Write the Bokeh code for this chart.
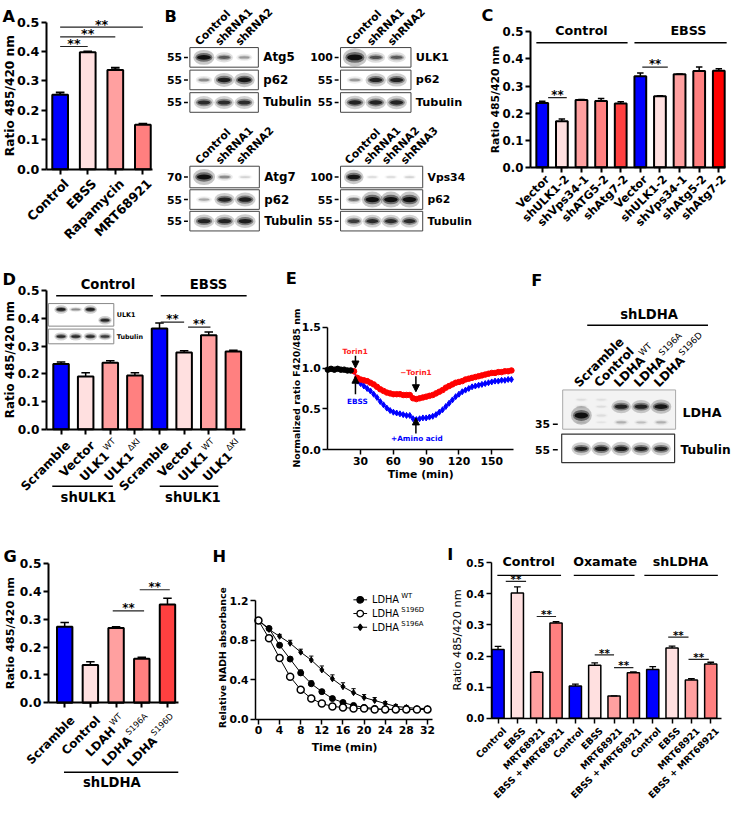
import math
from bokeh.plotting import figure
from bokeh.layouts import row, column
from bokeh.models import (Range1d, Label, Arrow, NormalHead, FixedTicker, LinearAxis,
                          NumeralTickFormatter, CustomJSTickFormatter, BasicTickFormatter)
from bokeh.embed import file_html
from bokeh.resources import INLINE

FONT = "DejaVu Sans"
ANG = math.pi / 4
C45 = math.sqrt(0.5)
SF = 0.98

BLUE = "#0000FF"; LPINK = "#FFE0E0"; PINK = "#FFA0A0"; SALMON = "#FF8080"
RED1 = "#FF4040"; RED2 = "#FF0000"

# ====================== DATA ======================
# A
A_labels = ["Control", "EBSS", "Rapamycin", "MRT68921"]
A_values = [0.253, 0.397, 0.337, 0.151]
A_errors = [0.008, 0.003, 0.008, 0.003]
# B (band intensities, 0-1)
B1_lanes = ["Control", "shRNA1", "shRNA2"]
B1_targets = ["Atg5", "p62", "Tubulin"]
B1_mw = ["55", "55", "55"]
B1_bands = [[1.0, 0.55, 0.3], [0.35, 0.9, 0.95], [0.8, 0.8, 0.8]]
B2_lanes = ["Control", "shRNA1", "shRNA2"]
B2_targets = ["ULK1", "p62", "Tubulin"]
B2_mw = ["100", "55", "55"]
B2_bands = [[1.3, 0.6, 0.55], [0.3, 0.85, 0.85], [0.85, 0.85, 0.85]]
B3_lanes = ["Control", "shRNA1", "shRNA2"]
B3_targets = ["Atg7", "p62", "Tubulin"]
B3_mw = ["70", "55", "55"]
B3_bands = [[1.1, 0.35, 0.12], [0.25, 0.85, 0.9], [0.85, 0.85, 0.9]]
B4_lanes = ["Control", "shRNA1", "shRNA2", "shRNA3"]
B4_targets = ["Vps34", "p62", "Tubulin"]
B4_mw = ["100", "55", "55"]
B4_bands = [[0.95, 0.1, 0.1, 0.12], [0.45, 1.1, 1.1, 1.1], [0.7, 0.8, 0.8, 0.8]]
# C
C_labels = ["Vector", "shULK1-2", "shVps34-1", "shATG5-2", "shAtg7-2",
            "Vector", "shULK1-2", "shVps34-1", "shAtg5-2", "shAtg7-2"]
C_groups = ["Control", "EBSS"]
C_values = [0.237, 0.170, 0.248, 0.245, 0.235, 0.336, 0.262, 0.343, 0.355, 0.356]
C_errors = [0.007, 0.008, 0.002, 0.009, 0.007, 0.012, 0.002, 0.001, 0.015, 0.008]
# D
D_labels = ["Scramble", "Vector", "ULK1", "ULK1", "Scramble", "Vector", "ULK1", "ULK1"]
D_sups = ["", "", "WT", "ΔKI", "", "", "WT", "ΔKI"]
D_groups = ["Control", "EBSS"]
D_values = [0.236, 0.190, 0.240, 0.194, 0.364, 0.277, 0.339, 0.281]
D_errors = [0.007, 0.014, 0.007, 0.010, 0.020, 0.006, 0.012, 0.004]
D_inset_ulk1 = [0.9, 0.35, 0.9, 0.85]
D_inset_tub = [0.8, 0.8, 0.8, 0.7]
# E
E_t_base = [0, 3, 6, 9, 12, 15, 18, 21]
E_base = [0.98, 0.99, 0.98, 0.99, 0.98, 0.98, 0.97, 0.97]
E_t = list(range(24, 169, 3))
E_red = [0.96, 0.88, 0.86, 0.85, 0.84, 0.82, 0.80, 0.77, 0.74, 0.72,
         0.70, 0.69, 0.68, 0.68, 0.68, 0.67, 0.67, 0.67, 0.63, 0.62,
         0.63, 0.64, 0.65, 0.66, 0.67, 0.69, 0.71, 0.73, 0.76, 0.78,
         0.80, 0.82, 0.83, 0.84, 0.86, 0.87, 0.88, 0.89, 0.90, 0.91,
         0.92, 0.93, 0.94, 0.94, 0.95, 0.95, 0.96, 0.96, 0.97]
E_blue = [0.96, 0.84, 0.81, 0.78, 0.75, 0.72, 0.68, 0.64, 0.59, 0.55,
          0.51, 0.48, 0.46, 0.45, 0.44, 0.43, 0.42, 0.42, 0.38, 0.37,
          0.38, 0.39, 0.39, 0.40, 0.41, 0.43, 0.46, 0.49, 0.53, 0.57,
          0.61, 0.65, 0.68, 0.71, 0.73, 0.75, 0.77, 0.78, 0.79, 0.80,
          0.81, 0.82, 0.83, 0.84, 0.84, 0.85, 0.85, 0.86, 0.86]
# F
F_lanes = ["Scramble", "Control", "LDHA", "LDHA", "LDHA"]
F_sups = ["", "", "WT", "S196A", "S196D"]
F_endo = [1.0, 0.06, 0.0, 0.0, 0.0]
F_exo = [0.08, 0.06, 0.85, 0.85, 0.95]
F_faint = [0.05, 0.04, 0.2, 0.15, 0.2]
F_tub = [0.85, 0.9, 0.9, 0.85, 0.85]
# G
G_labels = ["Scramble", "Control", "LDAH", "LDHA", "LDHA"]
G_sups = ["", "", "WT", "S196A", "S196D"]
G_values = [0.273, 0.135, 0.268, 0.158, 0.353]
G_errors = [0.015, 0.012, 0.005, 0.005, 0.022]
# H
H_time = list(range(0, 33, 2))
H_wt = [1.00, 0.92, 0.75, 0.61, 0.47, 0.36, 0.28, 0.21, 0.17, 0.14, 0.12, 0.11, 0.10, 0.10, 0.10, 0.10, 0.10]
H_wt_err = [0, 0.01, 0.02, 0.02, 0.03, 0.03, 0.02, 0.02, 0.01, 0.01, 0.01, 0.01, 0.01, 0.01, 0.01, 0.01, 0.01]
H_s196d = [1.00, 0.82, 0.62, 0.43, 0.30, 0.21, 0.16, 0.13, 0.12, 0.11, 0.11, 0.10, 0.10, 0.10, 0.10, 0.10, 0.10]
H_s196a = [1.00, 0.91, 0.84, 0.77, 0.68, 0.60, 0.50, 0.41, 0.33, 0.27, 0.22, 0.19, 0.16, 0.13, 0.12, 0.11, 0.11]
H_s196a_err = [0, 0.02, 0.02, 0.03, 0.03, 0.04, 0.04, 0.04, 0.04, 0.04, 0.03, 0.03, 0.02, 0.02, 0.02, 0.01, 0.01]
# I
I_labels = ["Control", "EBSS", "MRT68921", "EBSS + MRT68921"] * 3
I_groups = ["Control", "Oxamate", "shLDHA"]
I_values = [0.221, 0.402, 0.148, 0.306, 0.104, 0.170, 0.072, 0.146, 0.157, 0.226, 0.123, 0.174]
I_errors = [0.010, 0.020, 0.002, 0.004, 0.006, 0.008, 0.0, 0.003, 0.009, 0.006, 0.004, 0.006]

# ====================== HELPERS ======================
BOLD_W = {'L': .637, 'D': .830, 'H': .837, 'A': .774, 'U': .812, 'K': .775, '1': .696}
REG_W = {'W': .989, 'T': .611, 'S': .635, '1': .636, '9': .636, '6': .636, 'A': .684,
         'D': .770, 'Δ': .684, 'K': .656, 'I': .295}


def tw(s, bold):
    d = BOLD_W if bold else REG_W
    return sum(d.get(ch, 0.65) for ch in s)


class Panel:
    """A figure whose frame fills it; 'plot' maps reference pixels to data ranges."""

    def __init__(self, box, size, plot=None, xr=None, yr=None):
        ox, oy, w, h = box
        W, H = size
        if plot is None:
            plot = (ox, oy, ox + w, oy + h)
            xr = (ox, ox + w)
            yr = (oy + h, oy)
        self.fl, self.ft, self.fr, self.fb = plot
        self.xr, self.yr = xr, yr
        p = figure(width=W, height=H,
                   x_range=Range1d(self.x(ox), self.x(ox + w)),
                   y_range=Range1d(self.y(oy + h), self.y(oy)),
                   output_backend="svg", toolbar_location=None, title=None,
                   x_axis_location=None, y_axis_location=None,
                   min_border=0, min_border_left=0, min_border_right=0,
                   min_border_top=0, min_border_bottom=0)
        p.xgrid.visible = False
        p.ygrid.visible = False
        p.outline_line_color = None
        self.p = p

    def x(self, px):
        return self.xr[0] + (px - self.fl) / (self.fr - self.fl) * (self.xr[1] - self.xr[0])

    def y(self, py):
        return self.yr[0] + (self.fb - py) / (self.fb - self.ft) * (self.yr[1] - self.yr[0])

    def gx(self, v):
        return self.fl + (v - self.xr[0]) / (self.xr[1] - self.xr[0]) * (self.fr - self.fl)

    def gy(self, v):
        return self.fb - (v - self.yr[0]) / (self.yr[1] - self.yr[0]) * (self.fb - self.ft)

    def dx(self, l):
        return l * abs(self.xr[1] - self.xr[0]) / (self.fr - self.fl)

    def dy(self, l):
        return l * abs(self.yr[1] - self.yr[0]) / (self.fb - self.ft)

    def text(self, px, py, s, size, bold=True, color="black", align="center",
             baseline="middle", angle=0.0):
        self.p.add_layout(Label(x=self.x(px), y=self.y(py), text=s, text_font=FONT,
                                text_font_size=f"{size * SF:.1f}px",
                                text_font_style="bold" if bold else "normal",
                                text_color=color, text_align=align,
                                text_baseline=baseline, angle=angle))

    def line(self, px0, py0, px1, py1, width=1.5, color="black"):
        self.p.segment(x0=[self.x(px0)], y0=[self.y(py0)], x1=[self.x(px1)], y1=[self.y(py1)],
                       line_width=width, line_color=color)


def add_axes(P, lw, yticks, yfmt, ysize, xticks, xsize=None, ybounds=None, tick=5):
    yax = LinearAxis(fixed_location=P.xr[0], bounds=ybounds or tuple(P.yr),
                     ticker=FixedTicker(ticks=yticks), formatter=NumeralTickFormatter(format=yfmt))
    if xsize is None:
        xfmt = CustomJSTickFormatter(code="return ''")
    else:
        xfmt = BasicTickFormatter()
    xax = LinearAxis(fixed_location=P.yr[0], bounds=tuple(P.xr),
                     ticker=FixedTicker(ticks=xticks), formatter=xfmt)
    for ax, fs in ((yax, ysize), (xax, xsize or 8)):
        ax.axis_line_width = lw
        ax.axis_line_color = "black"
        ax.major_tick_line_width = lw
        ax.major_tick_line_color = "black"
        ax.major_tick_out = tick
        ax.major_tick_in = 0
        ax.minor_tick_line_color = None
        ax.major_label_text_font = FONT
        ax.major_label_text_font_style = "bold"
        ax.major_label_text_color = "black"
        ax.major_label_standoff = 2
        ax.major_label_text_font_size = f"{fs * SF:.1f}px"
    P.p.add_layout(yax, "left")
    P.p.add_layout(xax, "below")


def bars(P, values, errors, colors, width, lw=2.0, elw=1.5, cap=0.55):
    xs = list(range(len(values)))
    P.p.vbar(x=xs, top=values, bottom=0, width=width, fill_color=colors,
             line_color="black", line_width=lw)
    tops = [v + e for v, e in zip(values, errors)]
    P.p.segment(x0=xs, y0=values, x1=xs, y1=tops, line_color="black", line_width=elw)
    hw = width * cap / 2
    P.p.segment(x0=[x - hw for x in xs], y0=tops, x1=[x + hw for x in xs], y1=tops,
                line_color="black", line_width=elw)


def stars(P, px, py_line, size):
    P.text(px, py_line - 0.22 * size, "**", size, baseline="middle")


def sig(P, spans, size, lw=1.2):
    for a, b, yv in spans:
        P.p.segment(x0=[a], y0=[yv], x1=[b], y1=[yv], line_color="#222222", line_width=lw)
        stars(P, (P.gx(a) + P.gx(b)) / 2, P.gy(yv), size)


def xlabels(P, names, sups, off, size, supsize):
    for i, m in enumerate(names):
        s = sups[i] if sups else ""
        px = P.gx(i) + off[0]
        py = P.fb + off[1]
        if s:
            r = 0.45 * size
            P.text(px - r * C45, py - r * C45, s, supsize, bold=False, align="right", angle=ANG)
            w = tw(s, False) * supsize + 1.5
            P.text(px - w * C45, py + w * C45, m, size, align="right", angle=ANG)
        else:
            P.text(px, py, m, size, align="right", angle=ANG)


def draw_bands(p, xs, ys, inten, base_w, hscale=1.0):
    w = [base_w + 6 * min(i, 1.3) for i in inten]
    h = [(2.5 + 6.5 * i) * hscale for i in inten]
    a = [min(1.0, i) for i in inten]
    for wm, hm, am in ((1.25, 1.7, 0.22), (1.0, 1.0, 0.45), (0.8, 0.55, 0.85)):
        p.ellipse(x=xs, y=ys, width=[v * wm for v in w], height=[v * hm for v in h],
                  fill_color="black", fill_alpha=[v * am for v in a], line_color=None)


def draw_blot(P, x0, x1, rows, lanes, targets, mws, bands, tsize=12):
    n = len(lanes)
    pad = 4
    lw = (x1 - x0 - 2 * pad) / n
    lx = [x0 + pad + (i + 0.5) * lw for i in range(n)]
    for (top, bot), tgt, mw, inten in zip(rows, targets, mws, bands):
        P.p.quad(left=x0, right=x1, top=top, bottom=bot, fill_color="white",
                 line_color="#444444", line_width=1)
        yc = (top + bot) / 2
        draw_bands(P.p, lx, [yc] * n, inten, lw * 0.55)
        P.text(x0 - 8, yc, mw, 11, align="right")
        P.p.segment(x0=x0 - 6, y0=yc, x1=x0 - 2, y1=yc, line_color="black", line_width=1.5)
        P.text(x1 + 5, yc, tgt, tsize, align="left")
    top0 = rows[0][0]
    for x, name in zip(lx, lanes):
        P.text(x - 7, top0 - 4, name, 11, align="left", baseline="alphabetic", angle=ANG)


def letter(P, px, py, s):
    P.text(px, py, s, 16.5, align="left", baseline="alphabetic")


Y5 = [0, 0.1, 0.2, 0.3, 0.4, 0.5]

# ====================== PANEL A ======================
PA = Panel((0, 0, 165, 258), (161, 253), plot=(47, 22, 156, 172), xr=(-0.5, 3.357), yr=(0, 0.5))
add_axes(PA, 2, Y5, "0.0", 13, list(range(4)))
bars(PA, A_values, A_errors, [BLUE, LPINK, PINK, "#FF7F7F"], 0.57, lw=2, elw=2)
for j, yv in ((1, 0.417), (2, 0.45), (3, 0.483)):
    PA.p.segment(x0=[0], y0=[yv], x1=[j], y1=[yv], line_color="#222222", line_width=1.2)
    stars(PA, (PA.gx(0) + PA.gx(j)) / 2, PA.gy(yv), 13)
xlabels(PA, A_labels, None, (6.5, 12.5), 13, 8)
PA.text(10, 97, "Ratio 485/420 nm", 12.5, angle=math.pi / 2)
letter(PA, 2, 16, "A")

# ====================== PANEL B ======================
PB = Panel((165, 0, 323, 258), (316, 253))
ROWS_TOP = [(48, 68), (71, 91), (94, 114)]
ROWS_BOT = [(169, 191), (193, 213), (215, 235)]
draw_blot(PB, 194, 264, ROWS_TOP, B1_lanes, B1_targets, B1_mw, B1_bands, tsize=12)
draw_blot(PB, 348, 420, ROWS_TOP, B2_lanes, B2_targets, B2_mw, B2_bands, tsize=11.5)
draw_blot(PB, 194, 265, ROWS_BOT, B3_lanes, B3_targets, B3_mw, B3_bands, tsize=12)
draw_blot(PB, 348, 432, ROWS_BOT, B4_lanes, B4_targets, B4_mw, B4_bands, tsize=11)
letter(PB, 168, 16, "B")

# ====================== PANEL C ======================
PC = Panel((488, 0, 262, 258), (257, 253), plot=(542, 32, 741, 170), xr=(-0.6, 9.35), yr=(0, 0.5))
add_axes(PC, 2, Y5, "0.0", 12, list(range(10)))
bars(PC, C_values, C_errors, [BLUE, LPINK, PINK, SALMON, RED1, BLUE, LPINK, PINK, SALMON, RED2],
     0.6, lw=2, elw=1.5)
sig(PC, [(0.3, 1.25, 0.257), (5.1, 6.4, 0.37)], 12)
PC.line(548, 43, 641, 43); PC.text(594, 31, C_groups[0], 13)
PC.line(648, 43, 742, 43); PC.text(703, 31, C_groups[1], 13)
xlabels(PC, C_labels, None, (5.5, 10.5), 11.5, 8)
PC.text(506, 101, "Ratio 485/420 nm", 11, angle=math.pi / 2)
letter(PC, 492, 15, "C")

# ====================== PANEL D ======================
PD = Panel((0, 258, 258, 272), (252, 267), plot=(47, 296, 251, 437), xr=(-0.595, 7.5), yr=(0, 0.5))
add_axes(PD, 2, Y5, "0.0", 12.5, list(range(8)))
bars(PD, D_values, D_errors, [BLUE, LPINK, PINK, SALMON] * 2, 0.63, lw=2, elw=1.5)
sig(PD, [(4.05, 5.0, 0.387), (5.16, 6.07, 0.369)], 12)
PD.line(57, 301, 156, 301); PD.text(110, 290, D_groups[0], 13.5)
PD.line(164, 301, 252, 301); PD.text(213, 290, D_groups[1], 13.5)
xlabels(PD, D_labels, D_sups, (7.5, 14.5), 12.5, 8.5)
PD.line(53, 495, 115, 495); PD.text(90, 507, "shULK1", 13.5)
PD.line(163, 495, 223, 495); PD.text(197, 507, "shULK1", 13.5)
PD.text(10, 366, "Ratio 485/420 nm", 12, angle=math.pi / 2)
letter(PD, 2, 284, "D")
# inset blot
for (t, b) in ((309, 332), (335, 350)):
    PD.p.quad(left=PD.x(49), right=PD.x(116), top=PD.y(t), bottom=PD.y(b),
              fill_color="white", line_color="#888888", line_width=1)
ins_x = [PD.x(62 + 15 * i) for i in range(4)]
ins_y = [PD.y(315), PD.y(315), PD.y(315), PD.y(326)]
for wm, hm, am in ((1.25, 1.7, 0.22), (1.0, 1.0, 0.45), (0.8, 0.55, 0.85)):
    PD.p.ellipse(x=ins_x, y=ins_y, width=[PD.dx(11 * wm)] * 4,
                 height=[PD.dy((2 + 3.5 * v) * hm) for v in D_inset_ulk1],
                 fill_color="black", fill_alpha=[v * am for v in D_inset_ulk1], line_color=None)
    PD.p.ellipse(x=ins_x, y=[PD.y(342.5)] * 4, width=[PD.dx(11 * wm)] * 4,
                 height=[PD.dy((2 + 3.5 * v) * hm) for v in D_inset_tub],
                 fill_color="black", fill_alpha=[v * am for v in D_inset_tub], line_color=None)
PD.text(119, 321, "ULK1", 6.5, align="left")
PD.text(119, 343, "Tubulin", 6.5, align="left")

# ====================== PANEL E ======================
PE = Panel((258, 258, 272, 272), (266, 267), plot=(335, 333, 525, 458), xr=(0, 170), yr=(0, 1.5))
add_axes(PE, 1.5, [0, 0.5, 1.0, 1.5], "0.0", 11, [30, 60, 90, 120, 150], xsize=11)
PE.p.line(E_t, E_blue, line_color=BLUE, line_width=1.3)
PE.p.scatter(E_t, E_blue, marker="diamond", size=6, fill_color=BLUE, line_color=BLUE)
PE.p.line(E_t, E_red, line_color=RED2, line_width=1.5)
PE.p.scatter(E_t, E_red, marker="circle", size=5.5, fill_color=RED2, line_color=RED2)
PE.p.line(E_t_base, E_base, line_color="black", line_width=1.5)
PE.p.scatter(E_t_base, E_base, marker="circle", size=5.5, fill_color="black", line_color="black")
for (xs_, ys_, xe_, ye_) in ((25.3, 1.15, 25.3, 1.0), (25.3, 0.68, 25.3, 0.90),
                             (80.6, 0.90, 80.6, 0.71), (80.6, 0.20, 80.6, 0.39)):
    PE.p.add_layout(Arrow(x_start=xs_, y_start=ys_, x_end=xe_, y_end=ye_, line_width=1.5,
                          line_color="black",
                          end=NormalHead(size=7, fill_color="black", line_color="black")))
PE.text(PE.gx(25), PE.gy(1.2), "Torin1", 7.5, color="#FF2020")
PE.text(PE.gx(27), PE.gy(0.59), "EBSS", 7.5, color=BLUE)
PE.text(PE.gx(80.6), PE.gy(0.95), "\u2212Torin1", 7.5, color="#FF2020")
PE.text(PE.gx(81.5), PE.gy(0.135), "+Amino acid", 7.5, color=BLUE)
PE.text(303, 395, "Normalized ratio F420/485 nm", 9.5, angle=math.pi / 2)
PE.text(430, 483, "Time (min)", 11)
letter(PE, 292, 283, "E")

# ====================== PANEL F ======================
PF = Panel((530, 258, 220, 272), (216, 267))
letter(PF, 543, 285, "F")
PF.text(663, 320, "shLDHA", 13.5)
PF.line(600, 331, 723, 331)
f_lx = [594 + 20.3 * i for i in range(5)]
for x, m, s in zip(f_lx, F_lanes, F_sups):
    ax_, ay_ = x - 5, 392
    PF.text(ax_, ay_, m, 12.5, align="left", baseline="alphabetic", angle=ANG)
    if s:
        w = tw(m, True) * 12.5 + 1
        r = 5
        PF.text(ax_ + w * C45 - r * C45, ay_ - w * C45 - r * C45, s, 9, bold=False,
                align="left", baseline="alphabetic", angle=ANG)
PF.p.quad(left=575, right=690, top=397, bottom=437, fill_color="#F3F3F3",
          line_color="#AAAAAA", line_width=1)
PF.p.quad(left=574, right=689, top=442, bottom=471, fill_color="white",
          line_color="#333333", line_width=1.2)
draw_bands(PF.p, f_lx, [423] * 5, F_endo, 11, hscale=1.25)
draw_bands(PF.p, f_lx, [414] * 5, F_exo, 11)
draw_bands(PF.p, f_lx, [430] * 5, F_faint, 11)
draw_bands(PF.p, f_lx, [407] * 5, [0.06, 0.05, 0.0, 0.0, 0.0], 11)
draw_bands(PF.p, f_lx, [457] * 5, F_tub, 11)
PF.text(562, 432, "35", 11, align="right")
PF.p.segment(x0=565, y0=432, x1=570, y1=432, line_color="black", line_width=1.5)
PF.text(562, 458, "55", 11, align="right")
PF.p.segment(x0=565, y0=458, x1=570, y1=458, line_color="black", line_width=1.5)
PF.text(697, 420, "LDHA", 13, align="left")
PF.text(695, 458, "Tubulin", 12.5, align="left")

# ====================== PANEL G ======================
PG = Panel((0, 530, 215, 289), (210, 283), plot=(49, 574, 182, 716), xr=(-0.635, 4.42), yr=(0, 0.5))
add_axes(PG, 2, Y5, "0.0", 12.5, list(range(5)))
bars(PG, G_values, G_errors, [BLUE, LPINK, PINK, SALMON, RED1], 0.6, lw=2, elw=1.5)
sig(PG, [(1.87, 3.09, 0.33), (2.92, 4.09, 0.406)], 12)
xlabels(PG, G_labels, G_sups, (8, 16), 12, 8.5)
PG.line(65, 787, 182, 787)
PG.text(114, 798, "shLDHA", 13.5)
PG.text(10, 645, "Ratio 485/420 nm", 11.5, angle=math.pi / 2)
letter(PG, 3, 567, "G")

# ====================== PANEL H ======================
PH = Panel((215, 530, 235, 289), (230, 283), plot=(261, 600, 442, 733), xr=(-0.556, 32.98),
           yr=(0, 1.319))
add_axes(PH, 1.5, [0, 0.4, 0.8, 1.2], "0.0", 11, list(range(0, 33, 4)), xsize=11,
         ybounds=(0, 1.2))
for ys in (H_wt, H_s196d, H_s196a):
    PH.p.line(H_time, ys, line_color="black", line_width=1)
a_top = [v + e for v, e in zip(H_s196a, H_s196a_err)]
w_top = [v + e for v, e in zip(H_wt, H_wt_err)]
for vals, tops in ((H_s196a, a_top), (H_wt, w_top)):
    PH.p.segment(x0=H_time, y0=vals, x1=H_time, y1=tops, line_color="black", line_width=1)
    PH.p.segment(x0=[t - 0.4 for t in H_time], y0=tops, x1=[t + 0.4 for t in H_time], y1=tops,
                 line_color="black", line_width=1)
PH.p.scatter(H_time, H_s196a, marker="diamond", size=6, fill_color="black", line_color="black")
PH.p.scatter(H_time, H_wt, marker="circle", size=6, fill_color="black", line_color="black")
PH.p.scatter(H_time, H_s196d, marker="circle", size=7, fill_color="white", line_color="black",
             line_width=1.5)
leg = [("WT", "circle", "black", 611), ("S196D", "circle", "white", 625), ("S196A", "diamond", "black", 639)]
for sup, mk, fc, ly in leg:
    PH.line(361, ly, 375, ly, width=1)
    PH.p.scatter([PH.x(368)], [PH.y(ly)], marker=mk, size=6.5, fill_color=fc, line_color="black",
                 line_width=1.3)
    PH.text(380, ly, "LDHA", 10, bold=False, align="left")
    PH.text(380 + tw("LDHA", True) * 9.4 + 1, ly - 3.5, sup, 7, bold=False, align="left")
PH.text(352, 762, "Time (min)", 11)
PH.text(227, 670, "Relative NADH absorbance", 9.5, angle=math.pi / 2)
letter(PH, 217, 567, "H")

# ====================== PANEL I ======================
PI = Panel((450, 530, 300, 289), (294, 283), plot=(502, 573, 737, 732), xr=(-0.34, 11.57), yr=(0, 0.5))
add_axes(PI, 1.5, Y5, "0.0", 10.5, list(range(12)))
bars(PI, I_values, I_errors, [BLUE, LPINK, PINK, SALMON] * 3, 0.63, lw=1.5, elw=1.3)
sig(PI, [(0.4, 1.45, 0.44), (2.0, 3.0, 0.327), (5.0, 6.0, 0.204), (6.0, 7.0, 0.163),
         (8.8, 9.85, 0.261), (9.85, 10.9, 0.189)], 10.5)
for name, cx, l0, l1 in ((I_groups[0], 540, 508, 573), (I_groups[1], 618, 586, 648),
                         (I_groups[2], 695, 658, 733)):
    PI.text(cx, 572, name, 13)
    PI.line(l0, 586, l1, 586, width=1.2)
xlabels(PI, I_labels, None, (6.5, 11), 9.5, 7)
PI.text(467, 652, "Ratio 485/420 nm", 11.5, bold=False, angle=math.pi / 2)
letter(PI, 457, 565, "I")

layout = column(row(PA.p, PB.p, PC.p), row(PD.p, PE.p, PF.p), row(PG.p, PH.p, PI.p))
open("out.html", "w").write(file_html(layout, INLINE))
